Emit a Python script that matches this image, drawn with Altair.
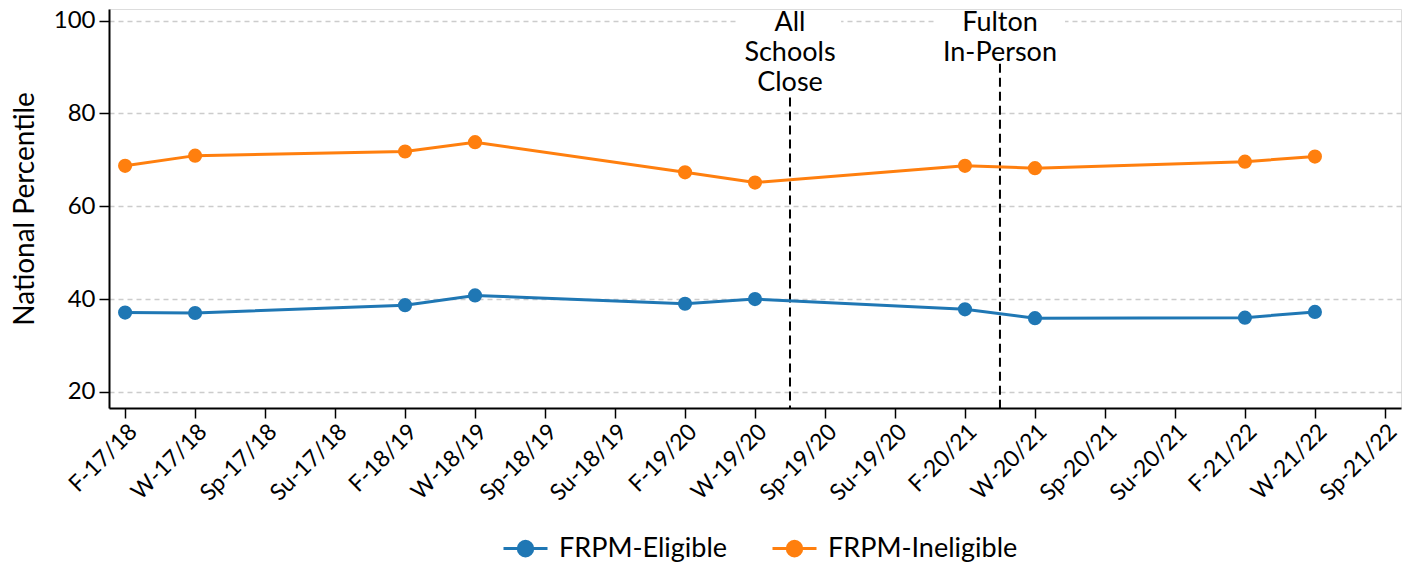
import altair as alt
import pandas as pd

# ---- data ----
terms = ["F-17/18", "W-17/18", "Sp-17/18", "Su-17/18",
         "F-18/19", "W-18/19", "Sp-18/19", "Su-18/19",
         "F-19/20", "W-19/20", "Sp-19/20", "Su-19/20",
         "F-20/21", "W-20/21", "Sp-20/21", "Su-20/21",
         "F-21/22", "W-21/22", "Sp-21/22"]
point_terms = ["F-17/18", "W-17/18", "F-18/19", "W-18/19", "F-19/20",
               "W-19/20", "F-20/21", "W-20/21", "F-21/22", "W-21/22"]
eligible = [37.1, 37.0, 38.7, 40.8, 39.0, 40.0, 37.8, 35.9, 36.0, 37.25]
ineligible = [68.7, 70.9, 71.8, 73.8, 67.3, 65.1, 68.7, 68.2, 69.6, 70.7]
series_names = ["FRPM-Eligible", "FRPM-Ineligible"]
series_colors = ["#1f77b4", "#ff7f0e"]

event_labels = ["All\nSchools\nClose", "Fulton\nIn-Person"]
event_pos = [9.5, 12.5]          # between W-19/20 & Sp-19/20, F-20/21 & W-20/21
event_top = [83.4, 90.7]         # where the dashed line starts

# ---- layout constants ----
FONT = "Lato"
Y_MIN, Y_MAX = 16.55, 102.48
X_MIN, X_MAX = -0.23, 18.23
label_half_width = [0.73, 0.93]

rows = []
for name, vals in zip(series_names, [eligible, ineligible]):
    for t, v in zip(point_terms, vals):
        rows.append({"idx": terms.index(t), "value": v, "series": name})
df = pd.DataFrame(rows)

ev = pd.DataFrame({"pos": event_pos, "top": event_top, "label": event_labels,
                   "hw": label_half_width})
ev["bottom"] = Y_MIN
ev["lx1"] = ev["pos"] - ev["hw"]
ev["lx2"] = ev["pos"] + ev["hw"]
ev["gy1"] = 99.0
ev["gy2"] = 101.0
ev["ly"] = 100.0

label_expr = "[" + ",".join(f"'{t}'" for t in terms) + "][datum.value]"

xscale = alt.Scale(domain=[X_MIN, X_MAX], nice=False, zero=False)
yscale = alt.Scale(domain=[Y_MIN, Y_MAX], nice=False, zero=False)

xaxis = alt.Axis(values=list(range(len(terms))), labelExpr=label_expr,
                 labelAngle=-45, labelAlign="right", labelBaseline="top",
                 labelFontSize=23, labelFont=FONT, labelColor="black",
                 labelOverlap=False, labelLimit=0,
                 tickSize=10, tickColor="black", tickWidth=1.5,
                 domainColor="black", domainWidth=2, grid=False, title=None,
                 labelPadding=2)
yaxis = alt.Axis(values=[20, 40, 60, 80, 100], labelFontSize=24, labelFont=FONT,
                 labelColor="black", tickSize=10, tickColor="black", tickWidth=1.5,
                 domainColor="black", domainWidth=2, grid=True,
                 gridColor="#cccccc", gridDash=[5, 4], gridWidth=1.5,
                 title="National Percentile", titleFont=FONT, titleFontSize=28,
                 titleFontWeight="normal", titleColor="black", titlePadding=14,
                 labelPadding=4)

color = alt.Color("series:N", scale=alt.Scale(domain=series_names, range=series_colors),
                  legend=alt.Legend(title=None, orient="none", direction="horizontal",
                                    legendX=393, legendY=516,
                                    labelFont=FONT, labelFontSize=27, labelColor="black",
                                    labelLimit=0,
                                    symbolType="M-1,0L1,0M-0.33,0A0.33,0.33 0 1,1 0.33,0A0.33,0.33 0 1,1 -0.33,0",
                                    symbolSize=1936, symbolStrokeWidth=3,
                                    columnPadding=38, labelOffset=10))

base = alt.Chart(df)
lines = base.mark_line(strokeWidth=3).encode(
    x=alt.X("idx:Q", scale=xscale, axis=xaxis),
    y=alt.Y("value:Q", scale=yscale, axis=yaxis),
    color=color,
)
points = base.mark_point(filled=True, size=200, opacity=1).encode(
    x=alt.X("idx:Q", scale=xscale),
    y=alt.Y("value:Q", scale=yscale),
    color=alt.Color("series:N", scale=alt.Scale(domain=series_names, range=series_colors),
                    legend=None),
)

evb = alt.Chart(ev)
mask = evb.mark_rect(color="white").encode(
    x=alt.X("lx1:Q", scale=xscale), x2="lx2:Q",
    y=alt.Y("gy1:Q", scale=yscale), y2="gy2:Q",
)
rules = evb.mark_rule(color="black", strokeWidth=2, strokeDash=[9, 5]).encode(
    x=alt.X("pos:Q", scale=xscale),
    y=alt.Y("top:Q", scale=yscale), y2="bottom:Q",
)
texts = evb.mark_text(font=FONT, fontSize=27, color="black", align="center",
                      baseline="top", lineHeight=30, dy=-11, lineBreak="\n").encode(
    x=alt.X("pos:Q", scale=xscale),
    y=alt.Y("ly:Q", scale=yscale),
    text="label:N",
)

chart = alt.layer(mask, rules, lines, points, texts).properties(
    width=1292, height=399,
    padding={"left": 3, "top": 0, "right": 0, "bottom": 0},
).configure_view(stroke=None).configure(font=FONT)

chart.save("out.html", embed_options={"renderer": "svg", "actions": False})
